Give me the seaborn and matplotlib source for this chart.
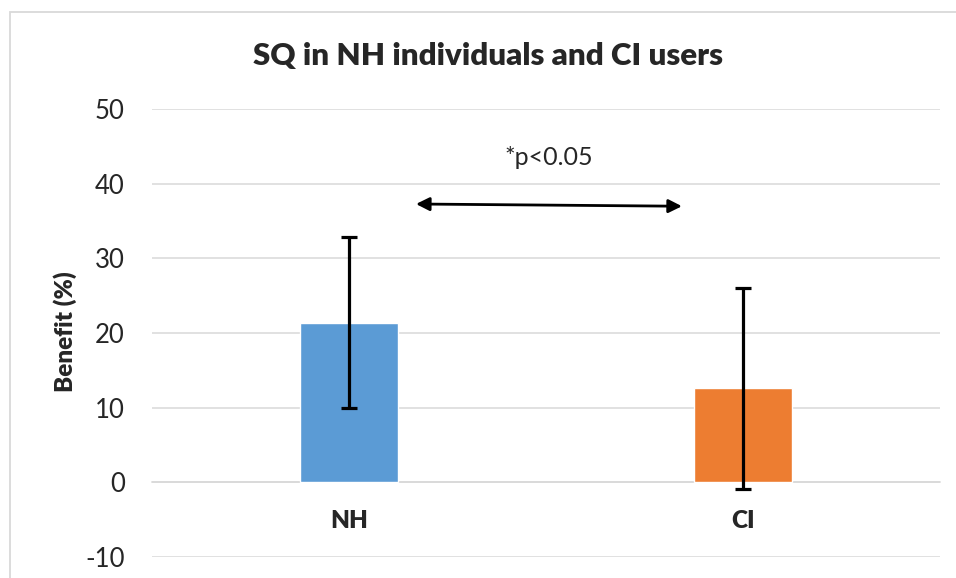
import pandas as pd
import matplotlib.pyplot as plt
import seaborn as sns
from matplotlib.patches import Rectangle
from matplotlib.ticker import FixedLocator

# Values
groups = ['NH', 'CI']
benefit = [21.4, 12.6]
benefit_err = [11.5, 13.5]
bar_colors = ['#5B9BD5', '#ED7D31']
y_ticks = [-10, 0, 10, 20, 30, 40, 50]
arrow_x = [0.17, 0.845]
arrow_y = [37.3, 37.0]
p_text = '*p<0.05'

df = pd.DataFrame({'group': groups, 'benefit': benefit})

sns.set_style('white')
plt.rcParams['font.family'] = ['Lato', 'DejaVu Sans']
plt.rcParams['axes.unicode_minus'] = False

fig = plt.figure(figsize=(9.56, 5.78), dpi=100)
ax = fig.add_axes([152 / 956, 1 - 556.7 / 578, (940 - 152) / 956, (556.7 - 109.3) / 578])

# Chart-area border (Excel style)
fig.patches.append(Rectangle((9.5 / 956, -0.1), 1.2, 1 - 12 / 578 + 0.1,
                             transform=fig.transFigure, fill=False,
                             edgecolor='#D9D9D9', linewidth=1.3))

sns.barplot(data=df, x='group', y='benefit', hue='group', palette=bar_colors,
            width=0.25, errorbar=None, legend=False, ax=ax, zorder=3,
            saturation=1)
ax.errorbar(range(len(groups)), benefit, yerr=benefit_err, fmt='none',
            ecolor='black', elinewidth=2.3, capsize=5.5, capthick=2.3, zorder=4)

ax.set_ylim(y_ticks[0], y_ticks[-1])
ax.set_xlim(-0.5, len(groups) - 0.5)
ax.set_yticks(y_ticks)
ax.yaxis.grid(True, color='#D9D9D9', linewidth=1.1, zorder=0)
ax.set_axisbelow(True)
ax.tick_params(axis='y', length=0, pad=19.5, labelsize=18.5)

for s in ['left', 'right', 'top']:
    ax.spines[s].set_visible(False)
ax.spines['bottom'].set_position(('data', 0))
ax.spines['bottom'].set_color('#D9D9D9')
ax.spines['bottom'].set_linewidth(1.1)
ax.xaxis.set_minor_locator(FixedLocator([-0.5, 0.5, 1.5]))
ax.tick_params(axis='x', which='minor', length=8, width=1.1, color='#D9D9D9', direction='out')
ax.tick_params(axis='x', which='major', length=0, pad=20, labelsize=17.5)
for lbl in ax.get_xticklabels():
    lbl.set_fontweight('heavy')

ax.set_xlabel('')
ax.set_ylabel('Benefit (%)', fontsize=17.5, fontweight='heavy')
ax.yaxis.set_label_coords(-(152 - 77) / 788, (556.7 - 332) / 447.4)

fig.text(488 / 956, 1 - 56 / 578, 'SQ in NH individuals and CI users',
         ha='center', va='center', fontsize=22.5, fontweight='heavy')

ax.annotate('', xy=(arrow_x[1], arrow_y[1]), xytext=(arrow_x[0], arrow_y[0]),
            arrowprops=dict(arrowstyle='<|-|>', color='black', lw=2,
                            mutation_scale=20, shrinkA=0, shrinkB=0))
ax.text(sum(arrow_x) / 2, 43.6, p_text, ha='center', va='center', fontsize=18)

plt.savefig('out.png', dpi=100)
